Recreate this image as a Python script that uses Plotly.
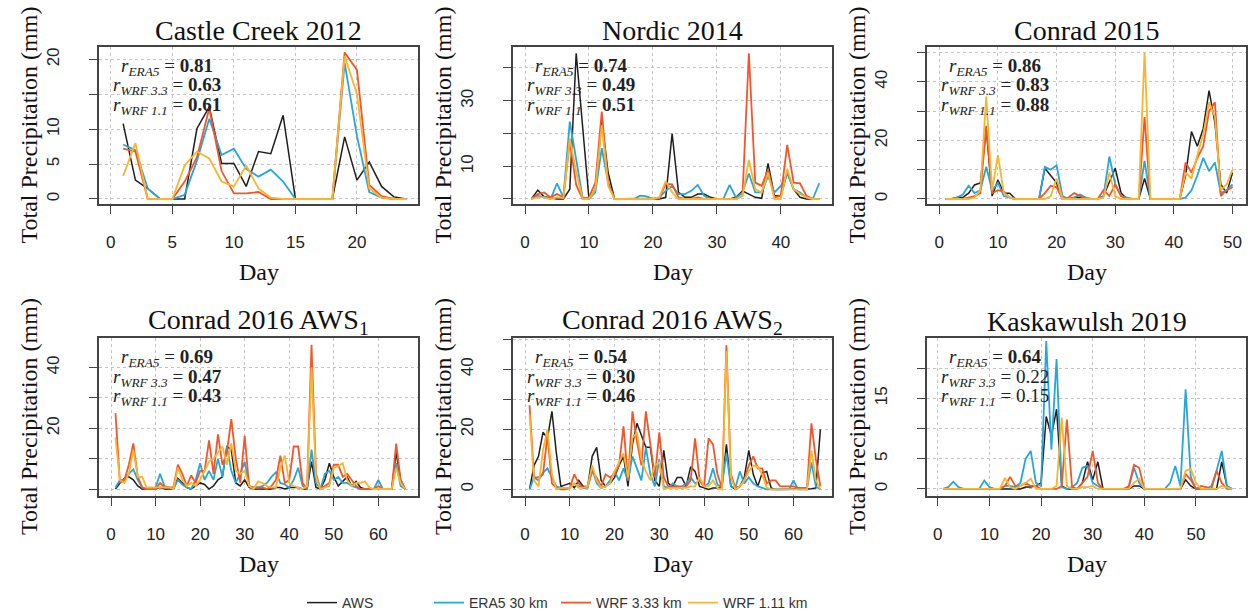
import plotly.graph_objects as go

W, H = 1248, 612

# ---------------- data ----------------
series_names = ["AWS", "ERA5 30 km", "WRF 3.33 km", "WRF 1.11 km"]
series_colors = ["#1e1e1e", "#27a6dc", "#f6552a", "#fbb42c"]

titles = ["Castle Creek 2012", "Nordic 2014", "Conrad 2015",
          "Conrad 2016 AWS<sub>1</sub>", "Conrad 2016 AWS<sub>2</sub>", "Kaskawulsh 2019"]

r_era5 = ["0.81", "0.74", "0.86", "0.69", "0.54", "0.64"]
r_wrf33 = ["0.63", "0.49", "0.83", "0.47", "0.30", "0.22"]
r_wrf11 = ["0.61", "0.51", "0.88", "0.43", "0.46", "0.15"]
r_bold = [[True, True, True], [True, True, True], [True, True, True],
          [True, True, True], [True, True, True], [True, False, False]]

# Castle Creek 2012
cc_aws = [10.8, 2.7, 1.5, 0, 0, 0, 10.1, 13.2, 5.1, 5.1, 1.8, 6.8, 6.5, 12.0, 0, 0, 0, 0, 8.9, 2.7, 5.3, 1.8, 0.3, 0]
cc_era5 = [7.8, 7.0, 1.5, 0, 0, 0.6, 5.5, 11.5, 6.3, 7.2, 4.3, 3.2, 4.2, 2.5, 0, 0, 0, 0, 19.5, 9.0, 1.0, 0.2, 0, 0]
cc_wrf33 = [7.2, 6.8, 0, 0, 0, 2.5, 6.0, 13.0, 4.0, 0.8, 0.8, 1.0, 0, 0, 0, 0, 0, 0, 21.0, 18.5, 2.0, 0.4, 0, 0]
cc_wrf11 = [3.3, 8.0, 0, 0, 0, 4.8, 6.8, 5.8, 2.5, 1.8, 4.8, 1.5, 0.2, 0, 0, 0, 0, 0, 20.5, 15.0, 1.5, 0.2, 0, 0]

# Nordic 2014
no_aws = [0, 2.7, 0.7, 0.3, 0, 0, 3, 44.5, 22, 0, 3, 23.6, 8, 0, 0, 0, 0, 0, 0, 0, 0, 0.5, 20, 2,
          0.5, 0.5, 1.5, 1.5, 0.5, 0, 0, 0, 0.5, 2.5, 1.5, 0.5, 0.2, 10.9, 1, 1, 8, 3, 0.5, 0, 0, 0]
no_era5 = [0, 1, 0.5, 0, 4.8, 0.5, 23.6, 12, 0.5, 0, 2, 15.5, 5, 0, 0, 0, 0, 1, 0.8, 0, 0.5, 2.5, 4, 1.5,
           1.5, 2.5, 4.3, 1, 0, 0, 0, 4.3, 0.3, 2, 7.8, 2, 2, 7, 2, 4, 7.8, 3, 2, 0.5, 0, 4.8]
no_wrf33 = [0, 1.5, 2, 0.5, 1.5, 0.5, 17.5, 4.3, 0, 0.5, 5, 26.7, 5, 0, 0, 0, 0, 0, 0, 0, 0.2, 4.6, 4.5, 0.5,
            0, 0, 0.5, 0, 0, 0, 0, 0, 0, 1, 44.5, 5, 4, 9, 0.5, 1, 16.5, 5, 4.8, 1, 0, 0]
no_wrf11 = [0, 0.5, 0.5, 0, 0.5, 0.3, 18.5, 8.3, 0, 0, 3, 22.6, 4, 0, 0, 0, 0, 0, 0, 0, 0.5, 5.5, 2, 0,
            0, 0, 0, 0, 0, 0, 0, 0, 0, 1, 11.9, 3, 2, 8, 0, 0, 9.2, 3, 1.5, 0.5, 0, 0]

# Conrad 2015
c15_aws = [0, 0, 0.5, 0.5, 2, 4.8, 5.5, 24, 1, 6.5, 2, 2, 0, 0, 0, 0, 0, 10.5, 8, 5.5, 0, 0, 0.5, 0.5, 0,
           0, 0, 1, 6, 10.5, 2, 0, 0, 0, 7, 0, 0, 0, 0, 0, 0, 8, 23, 18, 24, 37, 26, 5, 2, 9]
c15_era5 = [0, 0, 0.5, 1.5, 4.5, 2, 3, 11, 3, 5.5, 1, 0.5, 0, 0, 0, 0, 0, 11, 10, 11.5, 1, 0, 0.5, 1.5, 0.5,
            0, 0, 1, 14.5, 5, 1, 0.5, 0, 0, 13, 0, 0, 0, 0, 0, 0, 0.5, 3, 8, 14, 9.5, 12.5, 2, 3, 5]
c15_wrf33 = [0, 0, 0, 0, 0.5, 1, 2, 25, 2, 3, 2.5, 0.5, 0, 0, 0, 0, 0, 2, 4.5, 4, 0, 0.5, 2, 1, 0,
             0, 0, 3, 1, 5, 1, 0, 0, 0, 28, 0, 0, 0, 0, 0, 0, 12.5, 9, 14, 18, 30, 33, 1, 3, 4]
c15_wrf11 = [0, 0, 0, 0, 0, 0.5, 3, 35, 3, 15, 2, 0.5, 0, 0, 0, 0, 0, 0, 1, 7, 0, 0, 0, 0, 0,
             0, 0, 0.5, 9, 1, 0, 0, 0, 0, 50, 0, 0, 0, 0, 0, 0, 9, 7, 15, 22, 33, 28, 3, 5, 10]

# Conrad 2016 AWS1
a1_aws = [0, 2, 3.5, 4, 3, 1, 0, 0, 0, 0, 0.5, 0, 0, 0, 3.5, 2, 0.5, 0, 1, 2, 1.5, 0, 1, 3, 4, 14, 13, 2, 1, 3,
          0.5, 0, 0, 0, 0, 0, 0.5, 0.5, 0, 0.5, 0.5, 0.5, 0, 0, 9, 0.5, 0, 3, 8.5, 4, 1, 2.5, 4, 1, 2.5, 0.5,
          0, 0, 0, 0, 0, 0, 0, 12, 3, 0]
a1_era5 = [0.5, 3, 3, 5, 6.5, 3, 0.5, 0, 0, 0.5, 5, 1, 0.5, 0, 3, 1.5, 0.5, 0, 3, 8.5, 3, 6, 3, 10, 4, 14, 6, 2, 5, 9,
           1, 0.5, 0.5, 1, 2, 4, 5.5, 2, 1.5, 0.5, 3, 7, 1, 0, 13, 2, 0, 5, 6, 3, 4, 2, 2, 1, 0.5, 0,
           0, 0, 0, 3, 0, 0, 0, 8.5, 1, 0]
a1_wrf33 = [25, 2, 3, 8, 15, 4, 0.5, 0, 0, 0, 2, 0.5, 0.5, 0.5, 8, 5, 1, 4.5, 2, 6, 6, 16, 5, 18, 8, 12, 23, 10, 2, 17.5,
            1, 0.5, 0.5, 0.5, 0, 1, 3, 11, 2, 3, 14, 14, 2, 0, 47.5, 5, 0, 1, 2, 8, 8, 4, 5, 3, 1, 0,
            0, 0, 0, 1, 0, 0, 0, 15, 3, 0]
a1_wrf11 = [17, 3, 2, 5, 13, 4, 4, 0.5, 0.5, 0.5, 0.5, 0.5, 0.5, 0, 7, 3, 1, 2, 1, 3, 6, 9, 10, 12, 14, 8, 15, 6, 5, 6,
            1, 0, 2.5, 2, 1, 0.5, 0.5, 7, 11, 2, 1, 0.5, 0, 1, 40, 4, 0, 0.5, 1, 7, 7.5, 8.5, 3, 1, 2, 2,
            2.5, 0.5, 0, 0, 0, 0, 0, 7, 2, 0]

# Conrad 2016 AWS2
a2_aws = [0, 8, 11, 19, 17, 26, 12, 1, 1.5, 2, 0.5, 3, 1, 1, 11, 14, 3, 1, 2, 4, 8, 11, 1, 15, 22, 18, 14, 14, 3, 1,
          13, 2, 1, 4, 4, 1, 7.5, 6, 1, 0.5, 0, 0.5, 0.5, 1, 15, 1, 0, 1, 4, 13, 5, 1, 5.5, 6, 0.5, 0,
          0, 0, 0, 0, 0, 0, 0, 0.2, 0.5, 20]
a2_era5 = [0, 4, 3, 5.5, 7, 4, 1, 0.5, 0.5, 0.5, 2, 1, 0.5, 0.5, 7, 2, 0.5, 1, 3, 6, 3, 7, 3, 11, 7, 3, 14, 5, 1, 10,
           1, 0.5, 2, 1, 1, 2, 4, 2, 3, 1, 2, 7, 1.5, 1, 12, 1, 0.5, 6, 2, 4, 2, 1, 0.5, 0, 0, 0,
           0, 0, 0, 3, 0, 0, 0, 9, 1, 0]
a2_wrf33 = [28, 4, 4, 5, 18, 2, 0.5, 0, 0, 0.5, 5, 2, 0.5, 1, 6, 4, 1, 5, 4, 5, 8, 21, 3, 26, 16, 8, 26, 14, 4, 19,
            4, 1, 1, 1, 0.5, 1, 3, 17, 3, 1, 17, 15, 5, 0.5, 48, 5, 0.5, 1, 3, 8, 11, 7, 7, 2, 3, 3,
            1, 1, 1, 1, 0.5, 0.5, 0.5, 22, 10, 1]
a2_wrf11 = [25, 3, 1, 13, 20, 5, 0, 0.5, 0.5, 0.5, 2, 0.5, 0.5, 1, 8, 3, 0.5, 1, 2, 6, 9, 12, 4, 17, 19, 10, 6, 3, 8, 9,
            0, 0.5, 0.5, 0.5, 0.5, 0.5, 1, 1, 4, 1, 1, 3, 0.5, 0, 46, 4, 0, 1, 3, 6, 8, 7.5, 5, 0.5, 0, 0,
            0, 0, 0, 0, 0, 0, 0, 13, 3, 0]

# Kaskawulsh 2019
k_aws = [0, 0, 0, 0, 0, 0, 0, 0, 0, 0, 0, 0, 0, 0, 0, 0, 0.3, 0.3, 0.5, 1, 12, 8.8, 13.2, 0.5, 0, 0, 0, 1, 4.5, 1.5,
         4.5, 0, 0, 0, 0, 0, 0, 0.5, 0.5, 0, 0, 0, 0, 0, 0, 0, 0, 1.5, 0.5, 0, 0, 0, 0, 0, 4.5, 0.5, 0]
k_era5 = [0, 0.3, 1.2, 0.3, 0, 0, 0, 0, 1.4, 0.3, 0, 0, 0.5, 0.5, 0.3, 1, 5, 6.3, 1, 0.5, 24.5, 6.5, 21.5, 0.3, 0, 0.3, 1, 3.5, 3.8, 1,
          0.5, 0, 0, 0, 0, 0, 0.3, 3.5, 1, 0, 0, 0, 0, 0, 1, 3.8, 0.5, 16.5, 2, 0, 0, 0, 0.5, 3, 6.3, 0.5, 0]
k_wrf33 = [0, 0, 0, 0, 0, 0, 0, 0, 0, 0, 0, 0, 0.5, 2, 0.5, 0.5, 1, 0.5, 0.5, 0, 0, 0, 0, 0.5, 11.5, 0.3, 0, 1, 2, 6.3,
           1, 0, 0, 0, 0, 0, 0.5, 4, 3.5, 0, 0, 0, 0, 0, 0, 0, 0, 2.5, 1.5, 0, 0.5, 0.3, 0, 3, 1, 0, 0]
k_wrf11 = [0, 0, 0, 0, 0, 0, 0, 0, 0, 0, 0, 0, 1.8, 0.3, 0, 0.5, 1, 1.7, 0, 0, 0, 0, 0.5, 11.8, 0.5, 0, 0, 0.3, 0.3, 0.5,
           0, 0, 0, 0, 0, 0, 0, 1, 1.7, 0, 0, 0, 0, 0, 0, 0, 0, 3, 3.3, 1, 0, 0, 0, 0, 0.5, 0.3, 0]

panels = [
    [cc_aws, cc_era5, cc_wrf33, cc_wrf11],
    [no_aws, no_era5, no_wrf33, no_wrf11],
    [c15_aws, c15_era5, c15_wrf33, c15_wrf11],
    [a1_aws, a1_era5, a1_wrf33, a1_wrf11],
    [a2_aws, a2_era5, a2_wrf33, a2_wrf11],
    [k_aws, k_era5, k_wrf33, k_wrf11],
]

x_ranges = [[-0.96, 24.96], [-1.88, 48.0], [-2.1, 52.3], [-2.7, 68.9], [-2.7, 68.6], [-2.1, 59.7]]
y_ranges = [[-0.72, 21.78], [-1.53, 46.4], [-1.71, 51.9], [-2.3, 49.75], [-2.2, 50.4], [-1.17, 25.0]]
x_tickvals = [[0, 5, 10, 15, 20], [0, 10, 20, 30, 40], [0, 10, 20, 30, 40, 50],
              [0, 10, 20, 30, 40, 50, 60], [0, 10, 20, 30, 40, 50, 60], [0, 10, 20, 30, 40, 50]]
y_tickvals = [[0, 5, 10, 15, 20], [0, 10, 20, 30, 40], [0, 10, 20, 30, 40, 50],
              [0, 10, 20, 30, 40], [0, 10, 20, 30, 40, 50], [0, 5, 10, 15, 20]]
y_ticktext = [["0", "5", "10", "", "20"], ["", "10", "", "30", ""], ["0", "", "20", "", "40", ""],
              ["", "", "20", "", "40"], ["0", "", "20", "", "40", ""], ["0", "5", "", "15", ""]]

# ---------------- layout geometry (pixels) ----------------
col_px = [(99, 418), (513, 832), (927, 1246)]
row_px = [(47, 204), (338, 496)]


def px_x(p):
    return p / W


def px_y(p):
    return 1 - p / H


fig = go.Figure()
annotations = []
serif = "Liberation Serif"
sans = "Liberation Sans"

for i, data in enumerate(panels):
    r, c = divmod(i, 3)
    n = i + 1
    xa = "xaxis" if n == 1 else f"xaxis{n}"
    ya = "yaxis" if n == 1 else f"yaxis{n}"
    xref = "x" if n == 1 else f"x{n}"
    yref = "y" if n == 1 else f"y{n}"
    for s, (name, color) in enumerate(zip(series_names, series_colors)):
        vals = data[s]
        days = list(range(1, len(vals) + 1))
        fig.add_trace(go.Scatter(
            x=days, y=vals, mode="lines", name=name,
            line=dict(color=color, width=1.8 if s else 1.5),
            legendgroup=name, showlegend=(i == 0),
            xaxis=xref, yaxis=yref,
        ))
    x0, x1 = col_px[c]
    y0, y1 = row_px[r]
    common = dict(showline=True, mirror=True, linecolor="#444444", linewidth=1.5,
                  ticks="outside", ticklen=8, tickcolor="#444444", tickwidth=1.3,
                  showgrid=True, gridcolor="#c4c4c4", griddash="dot", gridwidth=1.2,
                  zeroline=False, automargin=False,
                  tickfont=dict(family=sans, size=17, color="#222222"))
    fig.layout[xa] = dict(domain=[px_x(x0), px_x(x1)], range=x_ranges[i], anchor=yref,
                          tickmode="array", tickvals=x_tickvals[i], ticklabelstandoff=14, **common)
    fig.layout[ya] = dict(domain=[px_y(y1), px_y(y0)], range=y_ranges[i], anchor=xref,
                          tickmode="array", tickvals=y_tickvals[i], ticktext=y_ticktext[i],
                          tickangle=-90, ticklabelstandoff=23, **common)
    # panel title
    annotations.append(dict(text=titles[i], xref="paper", yref="paper",
                            x=px_x((x0 + x1) / 2), y=px_y(y0 - 17), xanchor="center", yanchor="middle",
                            showarrow=False, font=dict(family=serif, size=28, color="#111111")))
    # axis titles
    annotations.append(dict(text="Total Precipitation (mm)", xref="paper", yref="paper",
                            x=px_x(x0 - 70), y=px_y((y0 + y1) / 2), xanchor="center", yanchor="middle",
                            textangle=-90, showarrow=False, font=dict(family=serif, size=24, color="#111111")))
    annotations.append(dict(text="Day", xref="paper", yref="paper",
                            x=px_x((x0 + x1) / 2), y=px_y(y1 + 68), xanchor="center", yanchor="middle",
                            showarrow=False, font=dict(family=serif, size=24, color="#111111")))
    # correlation labels
    labels = [("ERA5", r_era5[i]), ("WRF 3.3", r_wrf33[i]), ("WRF 1.1", r_wrf11[i])]
    for k, (sub, val) in enumerate(labels):
        v = f"<b>{val}</b>" if r_bold[i][k] else val
        txt = f"<i>r</i><sub><i>{sub}</i></sub> = {v}"
        annotations.append(dict(text=txt, xref="paper", yref="paper",
                                x=px_x(x0 + 68), y=px_y(y0 + 20 + 19.5 * k),
                                xanchor="center", yanchor="middle", showarrow=False,
                                font=dict(family=serif, size=19, color="#222222")))

fig.update_layout(
    width=W, height=H, margin=dict(l=0, r=0, t=0, b=0, autoexpand=False),
    paper_bgcolor="white", plot_bgcolor="white",
    annotations=annotations,
    showlegend=True,
    legend=dict(orientation="h", x=px_x(302), y=px_y(603), xanchor="left", yanchor="middle",
                entrywidth=82, font=dict(family=sans, size=14, color="#333333"),
                bgcolor="rgba(0,0,0,0)"),
)

fig.write_html(
    "out.html",
    config={"displayModeBar": False},
    post_script=("document.documentElement.style.margin='0';"
                 "document.body.style.margin='0';"
                 "document.documentElement.style.overflow='hidden';"
                 "document.body.style.overflow='hidden';"),
)
